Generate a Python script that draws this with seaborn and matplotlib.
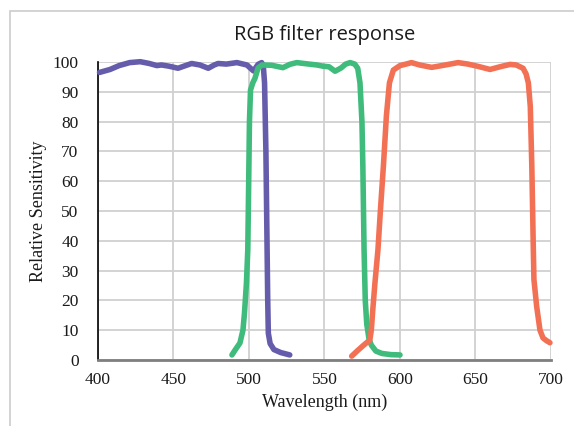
import pandas as pd
import seaborn as sns
import matplotlib.pyplot as plt
from matplotlib.patches import Rectangle

# blue filter (drawn purple)
blue_wl = [401, 408, 414, 421, 428, 434, 439, 442, 447, 453, 458, 462, 467.5, 473, 477,
           479.5, 485, 492, 498.6, 503, 506, 508.4, 509.5, 510.3, 511.2, 511.8, 512.4,
           512.8, 514, 516.5, 521, 527]
blue_val = [96.5, 97.5, 98.8, 99.8, 100.1, 99.5, 98.8, 99, 98.6, 97.9, 98.8, 99.5, 99, 97.9, 99,
            99.5, 99.3, 99.8, 99, 97, 99.2, 99.8, 98.5, 93, 70, 45, 20,
            9, 5.5, 3.5, 2.5, 1.7]

green_wl = [488.7, 491, 494, 496, 497, 498.3, 499.2, 499.8, 500.3, 501, 502.5, 504, 506, 508.6,
            515, 522.5, 527, 531.6, 538, 545, 549, 553, 557, 561, 564, 567, 570, 572,
            573.5, 574.8, 575.4, 576.2, 577, 578, 579.5, 581, 584, 588, 594, 600]
green_val = [1.7, 3.5, 5.7, 10, 15.7, 25.8, 37, 60, 80, 90.6, 93, 94.6, 98, 99,
             98.9, 98.1, 99.2, 99.8, 99.4, 99, 98.6, 98.4, 96.9, 98, 99.3, 99.8, 99.3, 97.9,
             93, 80, 65, 37, 20, 12, 7, 5, 3, 2.2, 1.8, 1.7]

red_wl = [568, 572, 576, 580, 581, 582, 583.4, 585.4, 587, 589, 591, 593, 595.6, 600, 604,
          607.6, 613, 621, 630, 638.5, 645, 652, 659.6, 667, 673, 677, 681.5, 683.5, 685,
          686.3, 687.3, 688.3, 688.7, 690.5, 692.7, 694.7, 697, 699.3]
red_val = [1.3, 3.2, 5, 6.7, 10, 17, 25.8, 37, 50, 65, 82, 93, 97.3, 98.8, 99.3,
           99.8, 99, 98.2, 99, 99.8, 99.3, 98.5, 97.5, 98.5, 99.2, 99, 97.9, 96, 93,
           85, 65, 37, 27, 18, 10, 7.4, 6.5, 5.8]

x_ticks = [400, 450, 500, 550, 600, 650, 700]
y_ticks = list(range(0, 101, 10))

series = [
    (blue_wl, blue_val, '#655dab'),
    (green_wl, green_val, '#3fbb7b'),
    (red_wl, red_val, '#f27155'),
]

sns.set_theme(style="white")
plt.rcParams['font.family'] = ['Liberation Serif', 'DejaVu Serif']

fig = plt.figure(figsize=(5.74, 4.26), dpi=100)
ax = fig.add_axes([98 / 574, 66 / 426, 453 / 574, 298 / 426])

# outer chart frame
fig.patches.append(Rectangle((10 / 574, -0.1), 1.2, 1 - 11 / 426 + 0.1, transform=fig.transFigure,
                             fill=False, edgecolor='#cccccc', linewidth=1.2))

for wl, val, color in series:
    df = pd.DataFrame({'wl': wl, 'val': val})
    sns.lineplot(data=df, x='wl', y='val', sort=False, color=color, linewidth=4,
                 ax=ax, clip_on=False, solid_capstyle='round', solid_joinstyle='round', zorder=3)

ax.set_xlim(400, 700)
ax.set_ylim(0, 100)
ax.set_xticks(x_ticks)
ax.set_yticks(y_ticks)
ax.grid(True, color='#d0d0d0', linewidth=1.3)
ax.set_axisbelow(True)
for s in ['top', 'right']:
    ax.spines[s].set_visible(False)
ax.spines['left'].set_color('black')
ax.spines['left'].set_linewidth(1.2)
ax.spines['bottom'].set_color('#7f7f7f')
ax.spines['bottom'].set_linewidth(2)
ax.tick_params(axis='both', length=0, labelsize=12.5, colors='#1a1a1a')
ax.tick_params(axis='y', pad=14)
ax.tick_params(axis='x', pad=9)

ax.set_xlabel('Wavelength (nm)', fontsize=13, color='#1a1a1a', labelpad=4)
ax.set_ylabel('Relative Sensitivity', fontsize=13, color='#1a1a1a', labelpad=4)
ax.set_title('RGB filter response', fontsize=14.5, color='#1a1a1a', pad=16,
             family=['Open Sans', 'DejaVu Sans'])

fig.savefig('out.png', dpi=100)
